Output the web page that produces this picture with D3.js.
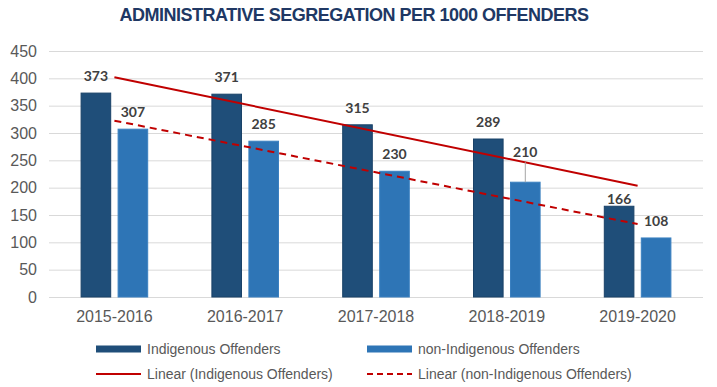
<!DOCTYPE html>
<html>
<head>
<meta charset="utf-8">
<script src="https://cdn.jsdelivr.net/npm/d3@7"></script>
<style>
  body { margin: 0; background: #fff; }
  svg { display: block; }
</style>
</head>
<body>
<svg id="chart"></svg>
<script>
// chart data
const years = ["2015-2016", "2016-2017", "2017-2018", "2018-2019", "2019-2020"];
const seriesNames = ["Indigenous Offenders", "non-Indigenous Offenders"];
const indigenous = [373, 371, 315, 289, 166];
const nonIndigenous = [307, 285, 230, 210, 108];
const yTicks = [0, 50, 100, 150, 200, 250, 300, 350, 400, 450];

const width = 717, height = 387;
const colors = ["#1F4E79", "#2E75B6"];
const strokes = ["#1a4268", "#3b80c0"];
const trendColor = "#C00000";

const svg = d3.select("#chart").attr("width", width).attr("height", height);

// title
svg.append("text")
    .attr("x", 354).attr("y", 21)
    .attr("text-anchor", "middle")
    .style("font-family", "'Liberation Sans', Arial, sans-serif")
    .style("font-weight", "bold")
    .style("font-size", "18px")
    .style("letter-spacing", "-0.5px")
    .style("fill", "#203864")
    .text("ADMINISTRATIVE SEGREGATION PER 1000 OFFENDERS");

const x0 = d3.scaleBand().domain(years).range([49, 703]);
const bw = x0.bandwidth();
const x1 = d3.scaleBand().domain(seriesNames)
    .range([bw / 2 - 33.3, bw / 2 + 33.3])
    .paddingInner(0.2);
const y = d3.scaleLinear().domain([0, 450]).range([297, 51]);

// gridlines
svg.append("g").selectAll("line").data(yTicks).join("line")
    .attr("x1", 49).attr("x2", 703)
    .attr("y1", d => y(d) + 0.5).attr("y2", d => y(d) + 0.5)
    .attr("stroke", "#d9d9d9").attr("stroke-width", 1);

// y axis labels
svg.append("g").selectAll("text").data(yTicks).join("text")
    .attr("x", 37).attr("y", d => y(d))
    .attr("dy", "0.36em")
    .attr("text-anchor", "end")
    .style("font-family", "'Liberation Sans', Arial, sans-serif")
    .style("font-size", "16px")
    .style("fill", "#595959")
    .text(d => d);

// x axis labels
svg.append("g").selectAll("text").data(years).join("text")
    .attr("x", d => x0(d) + bw / 2).attr("y", 322)
    .attr("text-anchor", "middle")
    .style("font-family", "'Liberation Sans', Arial, sans-serif")
    .style("font-size", "16px")
    .style("fill", "#595959")
    .text(d => d);

const rows = years.map((yr, i) => ({year: yr, vals: [indigenous[i], nonIndigenous[i]]}));

// bars
const groups = svg.append("g").selectAll("g").data(rows).join("g")
    .attr("transform", d => `translate(${x0(d.year)},0)`);

groups.selectAll("rect").data(d => d.vals.map((v, k) => ({s: seriesNames[k], v: v, k: k}))).join("rect")
    .attr("x", d => x1(d.s))
    .attr("y", d => y(d.v))
    .attr("width", x1.bandwidth())
    .attr("height", d => y(0) - y(d.v))
    .attr("fill", d => colors[d.k])
    .attr("stroke", d => strokes[d.k])
    .attr("stroke-width", 1);

// linear trend lines (least squares)
function trend(vals) {
    const n = vals.length;
    const xs = d3.range(1, n + 1);
    const mx = d3.mean(xs), my = d3.mean(vals);
    const slope = d3.sum(xs, (xv, i) => (xv - mx) * (vals[i] - my)) / d3.sum(xs, xv => (xv - mx) * (xv - mx));
    const b = my - slope * mx;
    return [[years[0], slope * 1 + b], [years[n - 1], slope * n + b]];
}
const line = d3.line().x(d => x0(d[0]) + bw / 2).y(d => y(d[1]));

svg.append("path").attr("d", line(trend(indigenous)))
    .attr("fill", "none").attr("stroke", trendColor).attr("stroke-width", 2);
svg.append("path").attr("d", line(trend(nonIndigenous)))
    .attr("fill", "none").attr("stroke", trendColor).attr("stroke-width", 2)
    .attr("stroke-dasharray", "7,5");

// data labels (a few were nudged by hand in the original)
const nudge = {"3-1": -13, "4-0": 9.5};
const labels = [];
rows.forEach((r, i) => r.vals.forEach((v, k) => {
    labels.push({x: x0(r.year) + x1(seriesNames[k]) + x1.bandwidth() / 2, v: v, off: nudge[i + "-" + k] || 0});
}));

svg.append("g").selectAll("line").data(labels.filter(d => d.off < 0)).join("line")
    .attr("x1", d => d.x).attr("x2", d => d.x)
    .attr("y1", d => y(d.v) - 17 + d.off + 10).attr("y2", d => y(d.v))
    .attr("stroke", "#a6a6a6").attr("stroke-width", 1);

svg.append("g").selectAll("text").data(labels).join("text")
    .attr("x", d => d.x)
    .attr("y", d => y(d.v) - 17 + d.off)
    .attr("dy", "0.36em")
    .attr("text-anchor", "middle")
    .style("font-family", "Lato, 'Open Sans', sans-serif")
    .style("font-weight", "bold")
    .style("font-size", "14px")
    .style("fill", "#404040")
    .text(d => d.v);

// legend
const legendItems = [
    {name: seriesNames[0], type: "bar", color: colors[0], x: 96, y: 349},
    {name: seriesNames[1], type: "bar", color: colors[1], x: 367, y: 349},
    {name: "Linear (" + seriesNames[0] + ")", type: "line", dash: null, x: 96, y: 374},
    {name: "Linear (" + seriesNames[1] + ")", type: "line", dash: "6,4", x: 367, y: 374}
];
const lg = svg.append("g").selectAll("g").data(legendItems).join("g")
    .attr("transform", d => `translate(${d.x},${d.y})`);
lg.filter(d => d.type === "bar").append("rect")
    .attr("x", 0).attr("y", -3.5).attr("width", 45).attr("height", 7)
    .attr("fill", d => d.color);
lg.filter(d => d.type === "line").append("line")
    .attr("x1", 0).attr("x2", 45).attr("y1", 0).attr("y2", 0)
    .attr("stroke", trendColor).attr("stroke-width", 2)
    .attr("stroke-dasharray", d => d.dash);
lg.append("text")
    .attr("x", 51).attr("y", 0).attr("dy", "0.36em")
    .style("font-family", "'Liberation Sans', Arial, sans-serif")
    .style("font-size", "14px")
    .style("fill", "#595959")
    .text(d => d.name);
</script>
</body>
</html>
